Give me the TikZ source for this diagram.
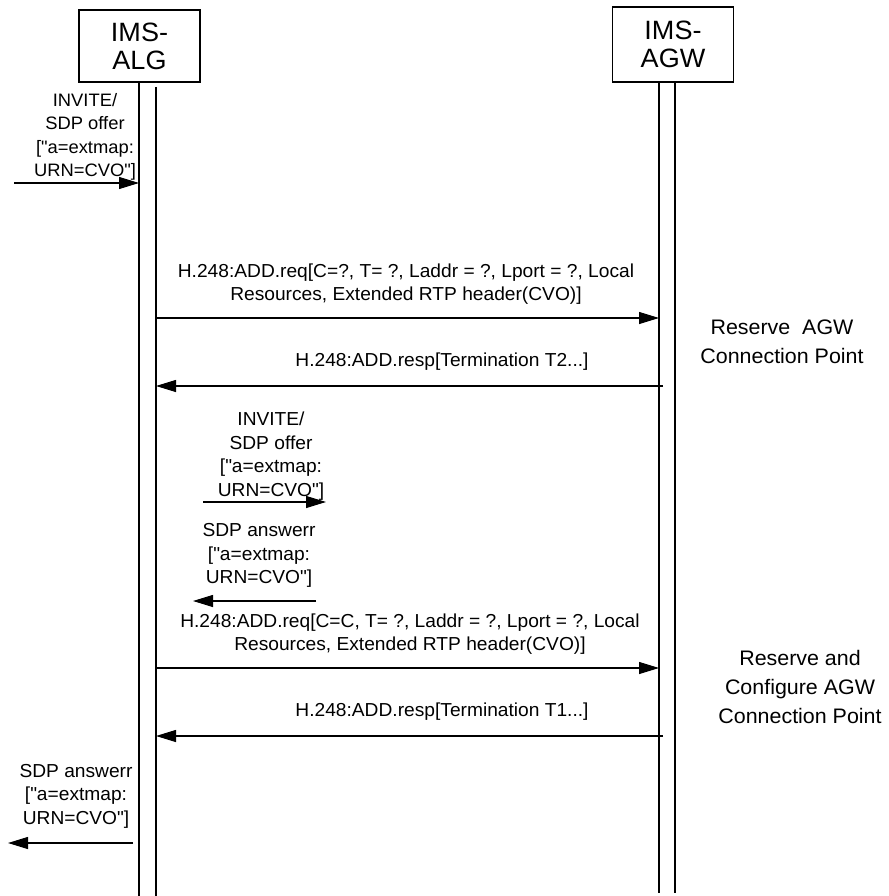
\documentclass[tikz,border=0pt]{standalone}
\usepackage{fontspec}
\setmainfont{Liberation Sans}[FakeStretch=1.02]
\usetikzlibrary{arrows.meta}
\tikzset{
  msg/.style={line width=1.1pt, -{Triangle[length=20pt,width=12pt]}},
  life/.style={line width=1.3pt},
  txt/.style={align=center, inner sep=0pt, font=\fontsize{18.8}{23.5}\selectfont},
  lbl/.style={align=center, inner sep=0pt, font=\fontsize{21}{29}\selectfont},
  ent/.style={draw, line width=1.3pt, minimum width=121pt, minimum height=72pt,
    align=center, inner sep=0pt, font=\fontsize{26.5}{28}\selectfont}
}
\newcommand{\qt}{\textquotedbl}
\begin{document}
\begin{tikzpicture}[x=1pt, y=-1pt]
\useasboundingbox (0,0) rectangle (888,896);
\node[ent] (alg) at (139.5,46) {IMS-\\ALG};
\node[ent, minimum height=75pt] (agw) at (673,44.5) {IMS-\\AGW};
\coordinate (algL) at (139,82);
\coordinate (algLend) at (139,896);
\coordinate (algR) at (156,87);
\coordinate (algRend) at (156,896);
\coordinate (agwL) at (659,82);
\coordinate (agwLend) at (659,893);
\coordinate (agwR) at (675,82);
\coordinate (agwRend) at (675,893);
\draw[life] (algL) -- (algLend);
\draw[life] (algR) -- (algRend);
\draw[life] (agwL) -- (agwLend);
\draw[life] (agwR) -- (agwRend);
\node[txt, font=\fontsize{18}{23.5}\selectfont] (inv1) at (85,137) {INVITE/\\SDP offer\\{[}\qt a=extmap:\\URN=CVO\qt{]}};
\coordinate (inv1s) at (14,183);
\draw[msg] (inv1s) -- (inv1s -| algL);
\node[txt] (req1) at (406,284) {H.248:ADD.req{[}C=?, T= ?, Laddr = ?, Lport = ?, Local\\Resources, Extended RTP header(CVO){]}};
\coordinate (req1s) at (156,318);
\draw[msg] (req1s) -- (req1s -| agwL);
\node[lbl] (res1) at (782,342) {Reserve\ \ AGW\\Connection Point};
\node[txt] (resp1) at (442,362) {H.248:ADD.resp{[}Termination T2...{]}};
\coordinate (resp1s) at (663,386);
\draw[msg] (resp1s) -- (resp1s -| algR);
\node[txt] (inv2) at (271,456) {INVITE/\\SDP offer\\{[}\qt a=extmap:\\URN=CVO\qt{]}};
\coordinate (inv2s) at (203,502);
\coordinate (inv2e) at (326,502);
\draw[msg] (inv2s) -- (inv2e);
\node[txt] (ans1) at (259,555.5) {SDP answerr\\{[}\qt a=extmap:\\URN=CVO\qt{]}};
\coordinate (ans1s) at (316,601);
\coordinate (ans1e) at (193,601);
\draw[msg] (ans1s) -- (ans1e);
\node[txt] (req2) at (410,634) {H.248:ADD.req{[}C=C, T= ?, Laddr = ?, Lport = ?, Local\\Resources, Extended RTP header(CVO){]}};
\coordinate (req2s) at (156,668);
\draw[msg] (req2s) -- (req2s -| agwL);
\node[lbl] (res2) at (800,687) {Reserve and\\Configure AGW\\Connection Point};
\node[txt] (resp2) at (442,712) {H.248:ADD.resp{[}Termination T1...{]}};
\coordinate (resp2s) at (663,736);
\draw[msg] (resp2s) -- (resp2s -| algR);
\node[txt] (ans2) at (76,796) {SDP answerr\\{[}\qt a=extmap:\\URN=CVO\qt{]}};
\coordinate (ans2s) at (133,843);
\coordinate (ans2e) at (8,843);
\draw[msg] (ans2s) -- (ans2e);
\end{tikzpicture}
\end{document}
